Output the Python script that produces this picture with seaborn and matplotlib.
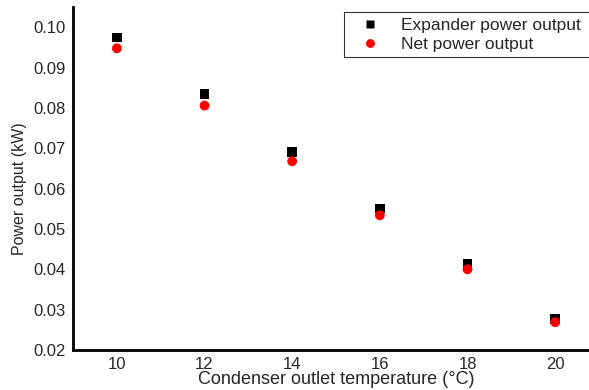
import numpy as np
import pandas as pd
import matplotlib
matplotlib.use("Agg")
import matplotlib.pyplot as plt
import seaborn as sns

sns.set_style("white")
plt.rcParams['font.family'] = ['Liberation Sans', 'DejaVu Sans']

# --- data ---
temps = [10, 12, 14, 16, 18, 20]
expander_power = [0.0975, 0.0834, 0.0690, 0.0551, 0.0413, 0.0277]
net_power = [0.0948, 0.0806, 0.0668, 0.0534, 0.0400, 0.0269]

df = pd.DataFrame({
    "temp": temps * 2,
    "power": expander_power + net_power,
    "series": ["Expander power output"] * len(temps) + ["Net power output"] * len(temps),
})

fig = plt.figure(figsize=(5.89, 3.90), dpi=100)
ax = fig.add_axes([0.124, 0.1026, 0.893, 0.879])

sns.scatterplot(data=df, x="temp", y="power", hue="series", style="series",
                palette={"Expander power output": "black", "Net power output": "red"},
                markers={"Expander power output": "s", "Net power output": "o"},
                s=50, edgecolor="none", ax=ax)

ax.set_xlim(9, 21)
ax.set_ylim(0.02, 0.105)
ax.set_xticks(temps)
ax.set_xticks(range(9, 22), minor=True)
ax.set_yticks(np.arange(0.02, 0.101, 0.01))
ax.yaxis.set_major_formatter(matplotlib.ticker.FormatStrFormatter('%.2f'))
ax.tick_params(axis="both", labelsize=12, length=3, width=0.8, direction="out", pad=2)
ax.tick_params(axis="x", which="minor", length=2, direction="in")
ax.tick_params(axis="x", which="major", direction="in", pad=5)

for side in ["top", "right"]:
    ax.spines[side].set_visible(False)
for side in ["left", "bottom"]:
    ax.spines[side].set_linewidth(2)
    ax.spines[side].set_color("black")

ax.set_xlabel("Condenser outlet temperature (\u00b0C)", fontsize=13, labelpad=-1)
ax.set_ylabel("Power output (kW)", fontsize=11.5)
ax.yaxis.set_label_coords(-0.087, 0.472)

# legend box runs off the right edge as in the reference
leg = ax.legend(loc="upper left", bbox_to_anchor=(0.515, 0.985, 0.6, 0), mode="expand",
                fontsize=12.5, frameon=True, fancybox=False, edgecolor="black",
                borderaxespad=0, handletextpad=0.6, borderpad=0.3, labelspacing=0.25,
                markerscale=0.9, handlelength=2.4)
leg.get_frame().set_linewidth(0.8)

fig.savefig("out.png", dpi=100)
